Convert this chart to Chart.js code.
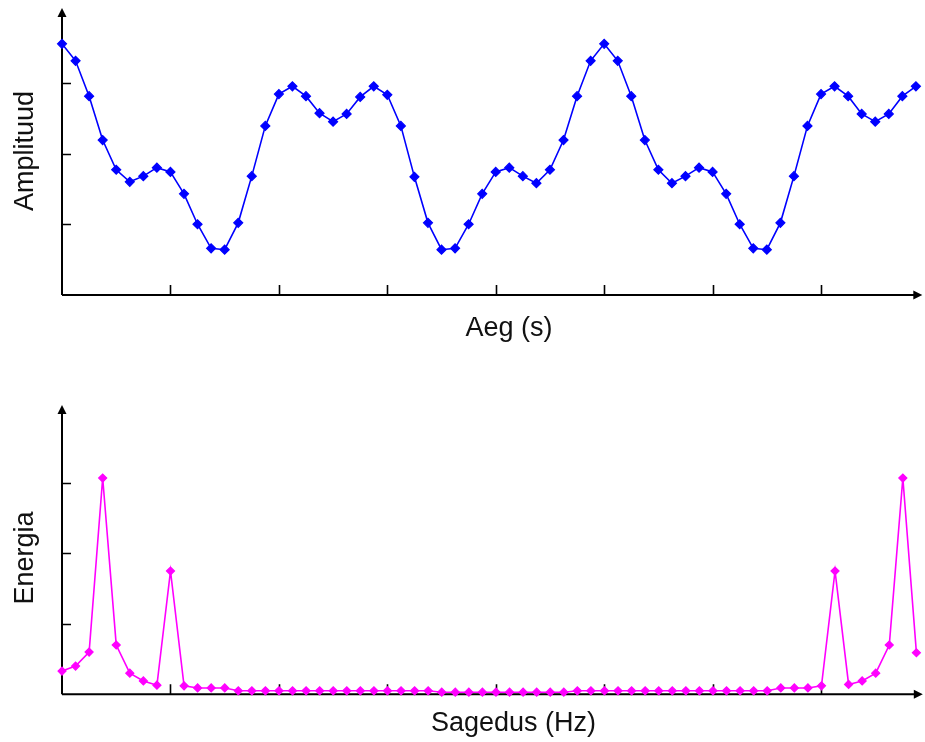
<!DOCTYPE html>
<html>
<head>
<meta charset="utf-8">
<script src="https://cdn.jsdelivr.net/npm/chart.js@4.4.1/dist/chart.umd.min.js"></script>
<style>
html,body{margin:0;padding:0;background:#fff;}
#wrap{position:relative;width:925px;height:742px;overflow:hidden;background:#fff;}
canvas{position:absolute;left:0;}
.t{position:absolute;font-family:"Liberation Sans",Arial,sans-serif;font-size:27px;line-height:27px;color:#111;white-space:nowrap;}
.h{transform:translateX(-50%);}
.v{transform:translate(-50%,-50%) rotate(-90deg);}
</style>
</head>
<body>
<div id="wrap">
  <canvas id="timeChart" width="925" height="370" style="top:0"></canvas>
  <canvas id="freqChart" width="925" height="372" style="top:370px"></canvas>
  <div class="t h" style="left:509px;top:314px">Aeg (s)</div>
  <div class="t v" style="left:23.6px;top:150.5px">Amplituud</div>
  <div class="t h" style="left:513.5px;top:709px">Sagedus (Hz)</div>
  <div class="t v" style="left:23.6px;top:557.5px">Energia</div>
</div>
<script>
// ---- data ----
const amplitude = [
  3.55, 3.31, 2.81, 2.19, 1.77, 1.60, 1.68, 1.80, 1.74, 1.43,
  1.00, 0.66, 0.64, 1.02, 1.68, 2.39, 2.84, 2.95, 2.81, 2.57,
  2.45, 2.56, 2.80, 2.95, 2.83, 2.39, 1.67, 1.02, 0.64, 0.66,
  1.00, 1.43, 1.74, 1.80, 1.68, 1.58, 1.77, 2.19, 2.81, 3.31,
  3.55, 3.31, 2.81, 2.19, 1.77, 1.58, 1.68, 1.80, 1.74, 1.43,
  1.00, 0.66, 0.64, 1.02, 1.68, 2.39, 2.84, 2.95, 2.81, 2.56,
  2.45, 2.56, 2.81, 2.95
];
const energy = [
  0.33, 0.40, 0.60, 3.07, 0.70, 0.30, 0.19, 0.13, 1.75, 0.12,
  0.09, 0.09, 0.09, 0.05, 0.05, 0.05, 0.05, 0.05, 0.05, 0.05,
  0.05, 0.05, 0.05, 0.05, 0.05, 0.05, 0.05, 0.05, 0.03, 0.03,
  0.03, 0.03, 0.03, 0.03, 0.03, 0.03, 0.03, 0.03, 0.05, 0.05,
  0.05, 0.05, 0.05, 0.05, 0.05, 0.05, 0.05, 0.05, 0.05, 0.05,
  0.05, 0.05, 0.05, 0.09, 0.09, 0.09, 0.12, 1.75, 0.14, 0.19,
  0.30, 0.70, 3.07, 0.59
];
const timeSamples = amplitude.map((_, i) => i);
const freqBins = energy.map((_, i) => i);
const xTickValues = [8, 16, 24, 32, 40, 48, 56];
const yTickValues = [1, 2, 3];

// ---- axes with arrows and inward ticks, placed through the chart's scales ----
const arrowAxes = {
  id: 'arrowAxes',
  beforeDatasetsDraw(chart) {
    const {ctx, chartArea: a, scales: {x, y}} = chart;
    const x0 = x.getPixelForValue(0), y0 = y.getPixelForValue(0);
    ctx.save();
    ctx.strokeStyle = '#000';
    ctx.fillStyle = '#000';
    ctx.lineWidth = 2;
    ctx.beginPath();
    ctx.moveTo(x0, y0); ctx.lineTo(a.right - 4, y0);
    ctx.moveTo(x0, y0); ctx.lineTo(x0, a.top + 4);
    ctx.stroke();
    // arrow heads
    ctx.beginPath();
    ctx.moveTo(a.right + 3, y0); ctx.lineTo(a.right - 6, y0 - 4.5); ctx.lineTo(a.right - 6, y0 + 4.5); ctx.closePath();
    ctx.fill();
    ctx.beginPath();
    ctx.moveTo(x0, a.top - 4); ctx.lineTo(x0 - 4.5, a.top + 5); ctx.lineTo(x0 + 4.5, a.top + 5); ctx.closePath();
    ctx.fill();
    // ticks
    ctx.lineWidth = 1.6;
    ctx.beginPath();
    xTickValues.forEach(v => { const px = Math.round(x.getPixelForValue(v)) + 0.5; ctx.moveTo(px, y0); ctx.lineTo(px, y0 - 10); });
    yTickValues.forEach(v => { const py = Math.round(y.getPixelForValue(v)) + 0.5; ctx.moveTo(x0, py); ctx.lineTo(x0 + 9, py); });
    ctx.stroke();
    ctx.restore();
  }
};

function makeChart(id, xs, ys, color, radius, yMax, padTop, padBottom) {
  return new Chart(document.getElementById(id), {
    type: 'line',
    data: {
      datasets: [{
        data: xs.map((v, i) => ({x: v, y: ys[i]})),
        borderColor: color,
        backgroundColor: color,
        borderWidth: 1.6,
        pointStyle: 'rectRot',
        pointRadius: radius,
        pointBorderWidth: 1.2,
        tension: 0,
        clip: false
      }]
    },
    options: {
      responsive: false,
      animation: false,
      events: [],
      layout: {padding: {left: 62, right: 4, top: padTop, bottom: padBottom}},
      plugins: {legend: {display: false}, tooltip: {enabled: false}},
      scales: {
        x: {type: 'linear', min: 0, max: 63.25, display: false},
        y: {type: 'linear', min: 0, max: yMax, display: false}
      }
    },
    plugins: [arrowAxes]
  });
}

makeChart('timeChart', timeSamples, amplitude, '#0000ff', 4.5, 4, 12, 75);
makeChart('freqChart', freqBins, energy, '#ff00ff', 4, 4.05, 39, 47.7);
</script>
</body>
</html>
